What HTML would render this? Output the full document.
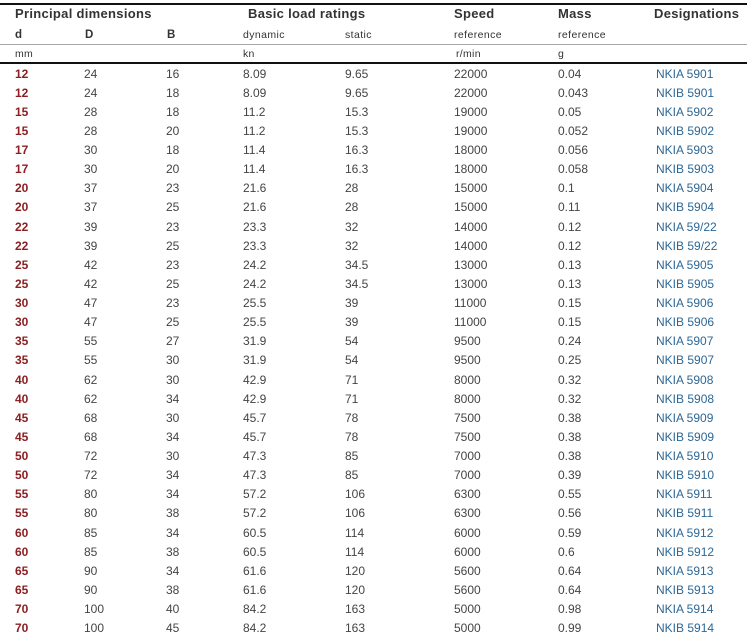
<!DOCTYPE html>
<html><head><meta charset="utf-8"><style>
html,body{margin:0;padding:0;background:#fff;}
body{width:749px;height:640px;position:relative;overflow:hidden;font-family:"Liberation Sans",sans-serif;color:#444;}
.a{position:absolute;white-space:nowrap;}
.h1{font-weight:bold;font-size:13px;letter-spacing:0.3px;color:#333;top:5px;line-height:18px;}
.h2{font-size:10.5px;letter-spacing:0.4px;color:#333;top:26px;line-height:18px;}
.h2b{font-weight:bold;font-size:11.5px;color:#333;top:26px;line-height:18px;}
.h3{font-size:10.5px;letter-spacing:0.3px;color:#333;top:45px;line-height:18px;}
.line{position:absolute;left:0;width:747px;}
#rows{position:absolute;left:0;top:64.5px;width:749px;}
.r{position:relative;height:19.14px;line-height:19.14px;font-size:12px;}
.r span{position:absolute;top:0;}
.c0{left:15px;color:#8b1f22;font-weight:bold;}
.c1{left:84px;}
.c2{left:166px;}
.c3{left:243px;}
.c4{left:345px;}
.c5{left:454px;}
.c6{left:558px;}
.c7{left:656px;color:#2d6795;}
</style></head><body>
<div class="line" style="top:3px;height:1.7px;background:#111;"></div>
<div class="a h1" style="left:15px;">Principal dimensions</div>
<div class="a h1" style="left:248px;">Basic load ratings</div>
<div class="a h1" style="left:454px;">Speed</div>
<div class="a h1" style="left:558px;">Mass</div>
<div class="a h1" style="left:654px;">Designations</div>

<div class="a h2b" style="left:15px;">d</div>
<div class="a h2b" style="left:85px;">D</div>
<div class="a h2b" style="left:167px;">B</div>
<div class="a h2" style="left:243px;">dynamic</div>
<div class="a h2" style="left:345px;">static</div>
<div class="a h2" style="left:454px;">reference</div>
<div class="a h2" style="left:558px;">reference</div>

<div class="line" style="top:44px;height:1px;background:#a8a8a8;"></div>

<div class="a h3" style="left:15px;">mm</div>
<div class="a h3" style="left:243px;">kn</div>
<div class="a h3" style="left:456px;">r/min</div>
<div class="a h3" style="left:558px;">g</div>

<div class="line" style="top:62px;height:2px;background:#111;"></div>

<div id="rows">
<div class="r"><span class="c0">12</span><span class="c1">24</span><span class="c2">16</span><span class="c3">8.09</span><span class="c4">9.65</span><span class="c5">22000</span><span class="c6">0.04</span><span class="c7">NKIA 5901</span></div>
<div class="r"><span class="c0">12</span><span class="c1">24</span><span class="c2">18</span><span class="c3">8.09</span><span class="c4">9.65</span><span class="c5">22000</span><span class="c6">0.043</span><span class="c7">NKIB 5901</span></div>
<div class="r"><span class="c0">15</span><span class="c1">28</span><span class="c2">18</span><span class="c3">11.2</span><span class="c4">15.3</span><span class="c5">19000</span><span class="c6">0.05</span><span class="c7">NKIA 5902</span></div>
<div class="r"><span class="c0">15</span><span class="c1">28</span><span class="c2">20</span><span class="c3">11.2</span><span class="c4">15.3</span><span class="c5">19000</span><span class="c6">0.052</span><span class="c7">NKIB 5902</span></div>
<div class="r"><span class="c0">17</span><span class="c1">30</span><span class="c2">18</span><span class="c3">11.4</span><span class="c4">16.3</span><span class="c5">18000</span><span class="c6">0.056</span><span class="c7">NKIA 5903</span></div>
<div class="r"><span class="c0">17</span><span class="c1">30</span><span class="c2">20</span><span class="c3">11.4</span><span class="c4">16.3</span><span class="c5">18000</span><span class="c6">0.058</span><span class="c7">NKIB 5903</span></div>
<div class="r"><span class="c0">20</span><span class="c1">37</span><span class="c2">23</span><span class="c3">21.6</span><span class="c4">28</span><span class="c5">15000</span><span class="c6">0.1</span><span class="c7">NKIA 5904</span></div>
<div class="r"><span class="c0">20</span><span class="c1">37</span><span class="c2">25</span><span class="c3">21.6</span><span class="c4">28</span><span class="c5">15000</span><span class="c6">0.11</span><span class="c7">NKIB 5904</span></div>
<div class="r"><span class="c0">22</span><span class="c1">39</span><span class="c2">23</span><span class="c3">23.3</span><span class="c4">32</span><span class="c5">14000</span><span class="c6">0.12</span><span class="c7">NKIA 59/22</span></div>
<div class="r"><span class="c0">22</span><span class="c1">39</span><span class="c2">25</span><span class="c3">23.3</span><span class="c4">32</span><span class="c5">14000</span><span class="c6">0.12</span><span class="c7">NKIB 59/22</span></div>
<div class="r"><span class="c0">25</span><span class="c1">42</span><span class="c2">23</span><span class="c3">24.2</span><span class="c4">34.5</span><span class="c5">13000</span><span class="c6">0.13</span><span class="c7">NKIA 5905</span></div>
<div class="r"><span class="c0">25</span><span class="c1">42</span><span class="c2">25</span><span class="c3">24.2</span><span class="c4">34.5</span><span class="c5">13000</span><span class="c6">0.13</span><span class="c7">NKIB 5905</span></div>
<div class="r"><span class="c0">30</span><span class="c1">47</span><span class="c2">23</span><span class="c3">25.5</span><span class="c4">39</span><span class="c5">11000</span><span class="c6">0.15</span><span class="c7">NKIA 5906</span></div>
<div class="r"><span class="c0">30</span><span class="c1">47</span><span class="c2">25</span><span class="c3">25.5</span><span class="c4">39</span><span class="c5">11000</span><span class="c6">0.15</span><span class="c7">NKIB 5906</span></div>
<div class="r"><span class="c0">35</span><span class="c1">55</span><span class="c2">27</span><span class="c3">31.9</span><span class="c4">54</span><span class="c5">9500</span><span class="c6">0.24</span><span class="c7">NKIA 5907</span></div>
<div class="r"><span class="c0">35</span><span class="c1">55</span><span class="c2">30</span><span class="c3">31.9</span><span class="c4">54</span><span class="c5">9500</span><span class="c6">0.25</span><span class="c7">NKIB 5907</span></div>
<div class="r"><span class="c0">40</span><span class="c1">62</span><span class="c2">30</span><span class="c3">42.9</span><span class="c4">71</span><span class="c5">8000</span><span class="c6">0.32</span><span class="c7">NKIA 5908</span></div>
<div class="r"><span class="c0">40</span><span class="c1">62</span><span class="c2">34</span><span class="c3">42.9</span><span class="c4">71</span><span class="c5">8000</span><span class="c6">0.32</span><span class="c7">NKIB 5908</span></div>
<div class="r"><span class="c0">45</span><span class="c1">68</span><span class="c2">30</span><span class="c3">45.7</span><span class="c4">78</span><span class="c5">7500</span><span class="c6">0.38</span><span class="c7">NKIA 5909</span></div>
<div class="r"><span class="c0">45</span><span class="c1">68</span><span class="c2">34</span><span class="c3">45.7</span><span class="c4">78</span><span class="c5">7500</span><span class="c6">0.38</span><span class="c7">NKIB 5909</span></div>
<div class="r"><span class="c0">50</span><span class="c1">72</span><span class="c2">30</span><span class="c3">47.3</span><span class="c4">85</span><span class="c5">7000</span><span class="c6">0.38</span><span class="c7">NKIA 5910</span></div>
<div class="r"><span class="c0">50</span><span class="c1">72</span><span class="c2">34</span><span class="c3">47.3</span><span class="c4">85</span><span class="c5">7000</span><span class="c6">0.39</span><span class="c7">NKIB 5910</span></div>
<div class="r"><span class="c0">55</span><span class="c1">80</span><span class="c2">34</span><span class="c3">57.2</span><span class="c4">106</span><span class="c5">6300</span><span class="c6">0.55</span><span class="c7">NKIA 5911</span></div>
<div class="r"><span class="c0">55</span><span class="c1">80</span><span class="c2">38</span><span class="c3">57.2</span><span class="c4">106</span><span class="c5">6300</span><span class="c6">0.56</span><span class="c7">NKIB 5911</span></div>
<div class="r"><span class="c0">60</span><span class="c1">85</span><span class="c2">34</span><span class="c3">60.5</span><span class="c4">114</span><span class="c5">6000</span><span class="c6">0.59</span><span class="c7">NKIA 5912</span></div>
<div class="r"><span class="c0">60</span><span class="c1">85</span><span class="c2">38</span><span class="c3">60.5</span><span class="c4">114</span><span class="c5">6000</span><span class="c6">0.6</span><span class="c7">NKIB 5912</span></div>
<div class="r"><span class="c0">65</span><span class="c1">90</span><span class="c2">34</span><span class="c3">61.6</span><span class="c4">120</span><span class="c5">5600</span><span class="c6">0.64</span><span class="c7">NKIA 5913</span></div>
<div class="r"><span class="c0">65</span><span class="c1">90</span><span class="c2">38</span><span class="c3">61.6</span><span class="c4">120</span><span class="c5">5600</span><span class="c6">0.64</span><span class="c7">NKIB 5913</span></div>
<div class="r"><span class="c0">70</span><span class="c1">100</span><span class="c2">40</span><span class="c3">84.2</span><span class="c4">163</span><span class="c5">5000</span><span class="c6">0.98</span><span class="c7">NKIA 5914</span></div>
<div class="r"><span class="c0">70</span><span class="c1">100</span><span class="c2">45</span><span class="c3">84.2</span><span class="c4">163</span><span class="c5">5000</span><span class="c6">0.99</span><span class="c7">NKIB 5914</span></div>
</div>
</body></html>
